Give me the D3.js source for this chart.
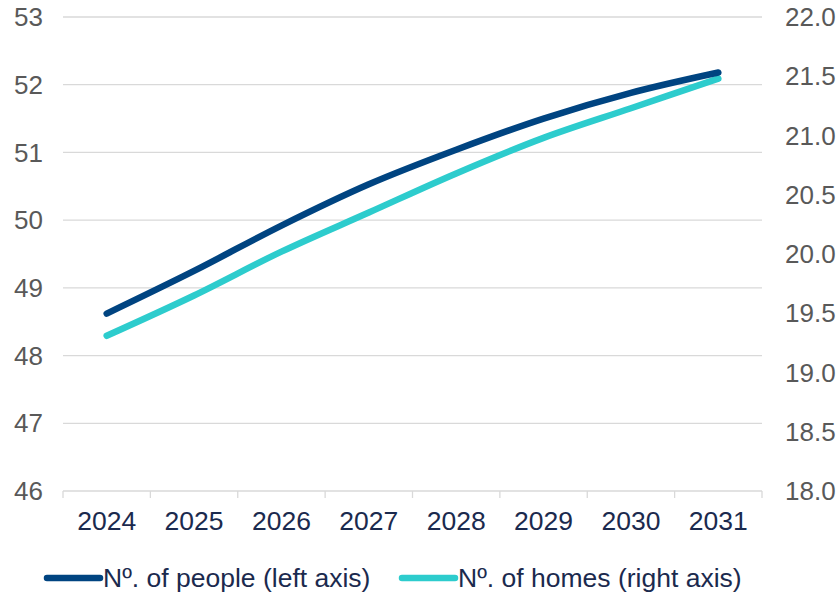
<!DOCTYPE html>
<html>
<head>
<meta charset="utf-8">
<script src="https://cdn.jsdelivr.net/npm/d3@7"></script>
<style>
  body { margin: 0; background: #fff; }
  svg { display: block; font-family: Arial, "Liberation Sans", sans-serif; }
</style>
</head>
<body>
<svg id="chart" width="840" height="594"></svg>
<script>
// data
const years = ['2024', '2025', '2026', '2027', '2028', '2029', '2030', '2031'];
const people = [48.62, 49.25, 49.92, 50.53, 51.04, 51.5, 51.88, 52.18];   // left axis
const homes = [19.31, 19.65, 20.02, 20.35, 20.68, 20.98, 21.23, 21.48];    // right axis
const leftTicks = [46, 47, 48, 49, 50, 51, 52, 53];
const rightTicks = [18, 18.5, 19, 19.5, 20, 20.5, 21, 21.5, 22];
const legendLabels = ['Nº. of people (left axis)', 'Nº. of homes (right axis)'];

const navy = '#004481', aqua = '#2dcccd';
const margin = { top: 17, right: 78, bottom: 103, left: 63 };
const width = 840 - margin.left - margin.right;
const height = 594 - margin.top - margin.bottom;

const svg = d3.select('#chart');
const g = svg.append('g').attr('transform', `translate(${margin.left},${margin.top})`);

const x = d3.scaleBand().domain(years).range([0, width]);
const yL = d3.scaleLinear().domain([46, 53]).range([height, 0]);
const yR = d3.scaleLinear().domain([18, 22]).range([height, 0]);

// gridlines
g.append('g')
  .selectAll('line')
  .data(leftTicks)
  .join('line')
  .attr('x1', 0).attr('x2', width)
  .attr('y1', d => yL(d)).attr('y2', d => yL(d))
  .attr('stroke', '#d9d9d9').attr('stroke-width', 1.3);

// left axis labels
g.append('g')
  .selectAll('text')
  .data(leftTicks)
  .join('text')
  .attr('x', -20).attr('y', d => yL(d))
  .attr('dy', '0.35em')
  .attr('text-anchor', 'end')
  .attr('fill', '#595959').attr('font-size', 26)
  .text(d => d);

// right axis labels
g.append('g')
  .selectAll('text')
  .data(rightTicks)
  .join('text')
  .attr('x', width + 23).attr('y', d => yR(d))
  .attr('dy', '0.35em')
  .attr('fill', '#595959').attr('font-size', 26)
  .text(d => d3.format('.1f')(d));

// x axis
const xAxis = g.append('g').attr('transform', `translate(0,${height})`)
  .call(d3.axisBottom(x).tickSize(0).tickPadding(20));
xAxis.select('.domain').remove();
xAxis.selectAll('text')
  .attr('fill', '#1b2a4e').attr('font-size', 26.5)
  .attr('font-family', 'Arial, "Liberation Sans", sans-serif');
// boundary ticks
const bounds = years.map(d => x(d)).concat([width]);
g.append('g').selectAll('line')
  .data(bounds)
  .join('line')
  .attr('x1', d => d).attr('x2', d => d)
  .attr('y1', height).attr('y2', height + 7)
  .attr('stroke', '#d9d9d9').attr('stroke-width', 1.3);

// lines
const cx = d => x(d) + x.bandwidth() / 2;
const linePeople = d3.line()
  .x((d, i) => cx(years[i]))
  .y(d => yL(d))
  .curve(d3.curveCatmullRom);
const lineHomes = d3.line()
  .x((d, i) => cx(years[i]))
  .y(d => yR(d))
  .curve(d3.curveCatmullRom);

g.append('path').datum(homes)
  .attr('d', lineHomes)
  .attr('fill', 'none').attr('stroke', aqua)
  .attr('stroke-width', 6.5).attr('stroke-linecap', 'round');
g.append('path').datum(people)
  .attr('d', linePeople)
  .attr('fill', 'none').attr('stroke', navy)
  .attr('stroke-width', 6.5).attr('stroke-linecap', 'round');

// legend
const legend = svg.append('g').attr('transform', 'translate(0,578)');
const items = [
  { label: legendLabels[0], color: navy, x: 47 },
  { label: legendLabels[1], color: aqua, x: 402 }
];
const li = legend.selectAll('g').data(items).join('g')
  .attr('transform', d => `translate(${d.x},0)`);
li.append('line')
  .attr('x1', 0).attr('x2', 53)
  .attr('stroke', d => d.color).attr('stroke-width', 6.5)
  .attr('stroke-linecap', 'round');
li.append('text')
  .attr('x', 56).attr('dy', '0.35em')
  .attr('fill', '#1b2a4e').attr('font-size', 26.5)
  .text(d => d.label);
</script>
</body>
</html>
